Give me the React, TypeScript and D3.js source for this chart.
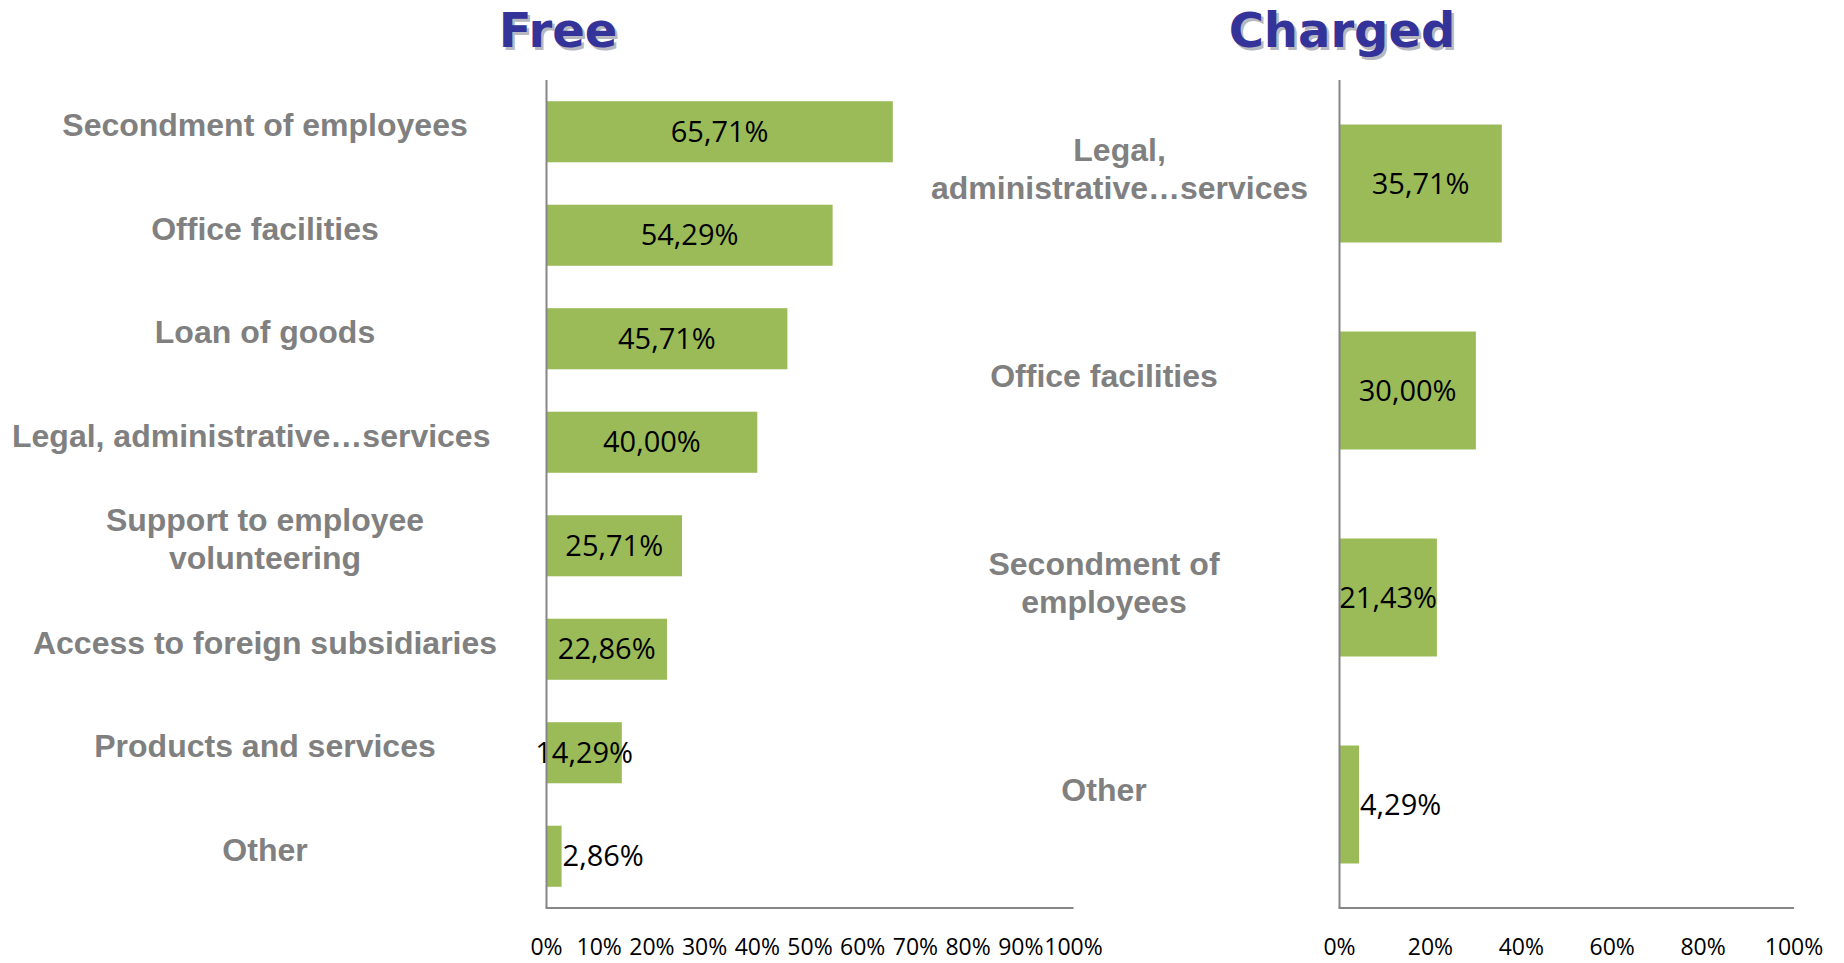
import React, { useEffect, useRef } from "react";
import * as d3 from "d3";

const freeCategories = [
  "Secondment of employees",
  "Office facilities",
  "Loan of goods",
  "Legal, administrative…services",
  "Support to employee\nvolunteering",
  "Access to foreign subsidiaries",
  "Products and services",
  "Other",
];
const freeValues = [65.71, 54.29, 45.71, 40.0, 25.71, 22.86, 14.29, 2.86];
const freeTicks = [0, 10, 20, 30, 40, 50, 60, 70, 80, 90, 100];

const chargedCategories = [
  "Legal,\nadministrative…services",
  "Office facilities",
  "Secondment of\nemployees",
  "Other",
];
const chargedValues = [35.71, 30.0, 21.43, 4.29];
const chargedTicks = [0, 20, 40, 60, 80, 100];

const W = 1844;
const H = 963;
const BAR = "#9BBB59";
const AXIS = "#868686";
const CAT = "#808080";
const TITLE = "#333399";
const CAT_FONT = "'Liberation Sans', Arial, sans-serif";
const NUM_FONT = "'Open Sans', Calibri, sans-serif";
const TITLE_FONT = "'DejaVu Sans', Verdana, sans-serif";

const panels = [
  {
    title: "Free",
    titleX: 558,
    cats: freeCategories,
    vals: freeValues,
    ticks: freeTicks,
    x0: 546.5,
    x1: 1073.5,
    pad: 0.41,
    labelCx: 265,
    labelMinLeft: 12,
    wideW: 470,
    labelDy: -7,
  },
  {
    title: "Charged",
    titleX: 1342,
    cats: chargedCategories,
    vals: chargedValues,
    ticks: chargedTicks,
    x0: 1339.5,
    x1: 1794,
    pad: 0.43,
    labelCx: 1104,
    labelMinLeft: 931,
    wideW: 300,
    labelDy: -15,
  },
];

const TOP = 80;
const BOTTOM = 908;

export default function App() {
  const ref = useRef<SVGSVGElement | null>(null);

  useEffect(() => {
    const svg = d3.select(ref.current);
    svg.selectAll("*").remove();

    panels.forEach((p) => {
      const g = svg.append("g");
      const x = d3.scaleLinear().domain([0, 100]).range([p.x0, p.x1]);
      const y = d3
        .scaleBand<string>()
        .domain(p.cats)
        .range([TOP, BOTTOM])
        .paddingInner(p.pad)
        .paddingOuter(p.pad / 2);

      // title with shadow
      g.append("text")
        .attr("x", p.titleX + 2.5)
        .attr("y", 47 + 2.5)
        .attr("text-anchor", "middle")
        .attr("font-family", TITLE_FONT)
        .attr("font-weight", "bold")
        .attr("font-size", 48)
        .attr("fill", "#b8b8c0")
        .text(p.title);
      g.append("text")
        .attr("x", p.titleX)
        .attr("y", 47)
        .attr("text-anchor", "middle")
        .attr("font-family", TITLE_FONT)
        .attr("font-weight", "bold")
        .attr("font-size", 48)
        .attr("fill", TITLE)
        .text(p.title);

      // bars
      g.selectAll("rect.bar")
        .data(p.vals)
        .enter()
        .append("rect")
        .attr("class", "bar")
        .attr("x", x(0))
        .attr("y", (_d, i) => y(p.cats[i]) as number)
        .attr("width", (d) => x(d) - x(0))
        .attr("height", y.bandwidth())
        .attr("fill", BAR);

      // data labels
      g.selectAll("text.val")
        .data(p.vals)
        .enter()
        .append("text")
        .attr("class", "val")
        .attr("x", (d) => (d < 5 ? x(d) + 1 : (x(0) + x(d)) / 2))
        .attr("y", (_d, i) => (y(p.cats[i]) as number) + y.bandwidth() / 2 + 10)
        .attr("text-anchor", (d) => (d < 5 ? "start" : "middle"))
        .attr("font-family", NUM_FONT)
        .attr("font-size", 29)
        .attr("fill", "#000")
        .text((d) => d.toFixed(2).replace(".", ",") + "%");

      // axes
      g.append("line")
        .attr("x1", x(0))
        .attr("x2", x(0))
        .attr("y1", TOP)
        .attr("y2", BOTTOM)
        .attr("stroke", AXIS)
        .attr("stroke-width", 2);
      g.append("line")
        .attr("x1", x(0) - 1)
        .attr("x2", x(100))
        .attr("y1", BOTTOM)
        .attr("y2", BOTTOM)
        .attr("stroke", AXIS)
        .attr("stroke-width", 2);

      // tick labels
      g.selectAll("text.tick")
        .data(p.ticks)
        .enter()
        .append("text")
        .attr("class", "tick")
        .attr("x", (d) => x(d))
        .attr("y", 955)
        .attr("text-anchor", "middle")
        .attr("font-family", NUM_FONT)
        .attr("font-size", 23)
        .attr("fill", "#000")
        .text((d) => `${d}%`);

      // category labels
      p.cats.forEach((c) => {
        const lines = c.split("\n");
        const cy = (y(c) as number) + y.bandwidth() / 2 + p.labelDy;
        const lineH = 38;
        const t = g
          .append("text")
          .attr("text-anchor", "middle")
          .attr("font-family", CAT_FONT)
          .attr("font-weight", "bold")
          .attr("font-size", 32)
          .attr("fill", CAT);
        const spans = lines.map((ln, i) =>
          t
            .append("tspan")
            .attr("x", p.labelCx)
            .attr("y", cy + 11.5 + (i - (lines.length - 1) / 2) * lineH)
            .text(ln)
        );
        let maxW = 0;
        spans.forEach((s) => {
          const n = s.node() as SVGTSpanElement;
          maxW = Math.max(maxW, n.getComputedTextLength());
        });
        const left = p.labelCx - maxW / 2;
        if (left < p.labelMinLeft || maxW > p.wideW) {
          const cx = p.labelMinLeft + maxW / 2;
          spans.forEach((s) => s.attr("x", cx));
        }
      });
    });
  }, []);

  return (
    <svg
      ref={ref}
      width={W}
      height={H}
      style={{ position: "absolute", left: 0, top: 0, background: "#fff" }}
    />
  );
}
